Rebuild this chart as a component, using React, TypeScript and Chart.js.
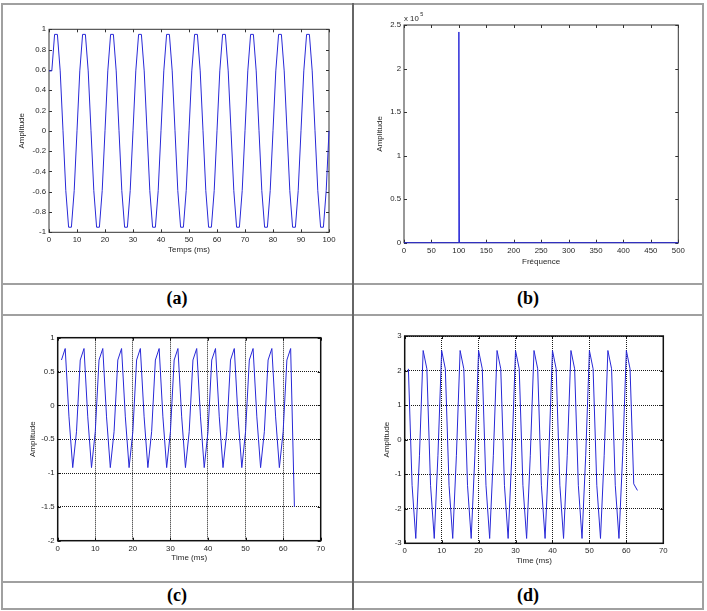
import React, { useEffect, useRef } from 'react';
import { Chart, registerables } from 'chart.js';

Chart.register(...registerables);

// ---------- DATA ----------
// (a) time signal, sampled every 1 ms from 0 to 100 ms
const ampA = [
  0.59,
  0.59, 0.95, 0.95, 0.59, 0, -0.59, -0.95, -0.95, -0.59, 0,
  0.59, 0.95, 0.95, 0.59, 0, -0.59, -0.95, -0.95, -0.59, 0,
  0.59, 0.95, 0.95, 0.59, 0, -0.59, -0.95, -0.95, -0.59, 0,
  0.59, 0.95, 0.95, 0.59, 0, -0.59, -0.95, -0.95, -0.59, 0,
  0.59, 0.95, 0.95, 0.59, 0, -0.59, -0.95, -0.95, -0.59, 0,
  0.59, 0.95, 0.95, 0.59, 0, -0.59, -0.95, -0.95, -0.59, 0,
  0.59, 0.95, 0.95, 0.59, 0, -0.59, -0.95, -0.95, -0.59, 0,
  0.59, 0.95, 0.95, 0.59, 0, -0.59, -0.95, -0.95, -0.59, 0,
  0.59, 0.95, 0.95, 0.59, 0, -0.59, -0.95, -0.95, -0.59, 0,
  0.59, 0.95, 0.95, 0.59, 0, -0.59, -0.95, -0.95, -0.59, 0,
];
const startA = 0;

// (b) spectrum
const freqB = [0, 99, 100, 101, 500];
const magB = [0, 0, 242000, 0, 0];

// (c) time signal, 1..63 ms
const ampC = [
  0.67, 0.84, -0.17, -0.92, -0.39,
  0.67, 0.84, -0.17, -0.92, -0.39,
  0.67, 0.84, -0.17, -0.92, -0.39,
  0.67, 0.84, -0.17, -0.92, -0.39,
  0.67, 0.84, -0.17, -0.92, -0.39,
  0.67, 0.84, -0.17, -0.92, -0.39,
  0.67, 0.84, -0.17, -0.92, -0.39,
  0.67, 0.84, -0.17, -0.92, -0.39,
  0.67, 0.84, -0.17, -0.92, -0.39,
  0.67, 0.84, -0.17, -0.92, -0.39,
  0.67, 0.84, -0.17, -0.92, -0.39,
  0.67, 0.84, -0.17, -0.92, -0.39,
  0.67, 0.84, -1.5,
];
const startC = 1;

// (d) time signal, 1..63 ms
const ampD = [
  2.05, -1.32, -2.86, -0.45, 2.58,
  2.05, -1.32, -2.86, -0.45, 2.58,
  2.05, -1.32, -2.86, -0.45, 2.58,
  2.05, -1.32, -2.86, -0.45, 2.58,
  2.05, -1.32, -2.86, -0.45, 2.58,
  2.05, -1.32, -2.86, -0.45, 2.58,
  2.05, -1.32, -2.86, -0.45, 2.58,
  2.05, -1.32, -2.86, -0.45, 2.58,
  2.05, -1.32, -2.86, -0.45, 2.58,
  2.05, -1.32, -2.86, -0.45, 2.58,
  2.05, -1.32, -2.86, -0.45, 2.58,
  2.05, -1.32, -2.86, -0.45, 2.58,
  2.05, -1.28, -1.47,
];
const startD = 1;

// tick values
const xTicksA = [0, 10, 20, 30, 40, 50, 60, 70, 80, 90, 100];
const yTicksA = [-1, -0.8, -0.6, -0.4, -0.2, 0, 0.2, 0.4, 0.6, 0.8, 1];
const xTicksB = [0, 50, 100, 150, 200, 250, 300, 350, 400, 450, 500];
const yTicksB = [0, 50000, 100000, 150000, 200000, 250000];
const xTicksCD = [0, 10, 20, 30, 40, 50, 60, 70];
const yTicksC = [-2, -1.5, -1, -0.5, 0, 0.5, 1];
const yTicksD = [-3, -2, -1, 0, 1, 2, 3];

const captions = ['(a)', '(b)', '(c)', '(d)'];

// ---------- STYLE ----------
const FONT = "'Liberation Sans', Arial, Helvetica, sans-serif";
const LINE_BLUE = 'rgb(40,40,215)';
const TEXT = '#262626';
const TICK_SIZE = 7.8;
const TITLE_SIZE = 8;
const LH = TITLE_SIZE * 1.2;

type Geo = {
  cx: number; cy: number; cw: number; ch: number;
  pl: number; pt: number; pr: number; pb: number;
  xTitleY: number; yTitleX: number;
};

type Panel = {
  xs: number[]; ys: number[];
  xMin: number; xMax: number; xTicks: number[];
  yMin: number; yMax: number; yTicks: number[];
  yFmt: (v: number) => string;
  xTitle: string; yTitle: string;
  grid: boolean; frameWidth: number; frameColor: string;
  exponent?: boolean;
  geo: Geo;
};

const framePlugin = {
  id: 'frame',
  beforeDatasetsDraw(chart: any, _args: any, opts: any) {
    const { ctx, chartArea, scales } = chart;
    const { left, top, right, bottom } = chartArea;
    const L = 3;
    ctx.save();
    ctx.strokeStyle = opts.color;
    ctx.lineWidth = 1;
    ctx.beginPath();
    scales.x.ticks.forEach((t: any) => {
      const p = Math.round(scales.x.getPixelForValue(t.value)) + 0.5;
      ctx.moveTo(p, bottom); ctx.lineTo(p, bottom - L);
      ctx.moveTo(p, top); ctx.lineTo(p, top + L);
    });
    scales.y.ticks.forEach((t: any) => {
      const p = Math.round(scales.y.getPixelForValue(t.value)) + 0.5;
      ctx.moveTo(left, p); ctx.lineTo(left + L, p);
      ctx.moveTo(right, p); ctx.lineTo(right - L, p);
    });
    ctx.stroke();
    ctx.lineWidth = opts.width;
    ctx.strokeRect(left, top, right - left, bottom - top);
    ctx.restore();
  },
  afterDraw(chart: any, _args: any, opts: any) {
    if (!opts.exponent) return;
    const { ctx, chartArea } = chart;
    ctx.save();
    ctx.fillStyle = TEXT;
    ctx.textBaseline = 'alphabetic';
    ctx.textAlign = 'left';
    ctx.font = `${TICK_SIZE}px ${FONT}`;
    ctx.fillText('x 10', chartArea.left, chartArea.top - 4);
    const w = ctx.measureText('x 10').width;
    ctx.font = `5.5px ${FONT}`;
    ctx.fillText('5', chartArea.left + w + 1.5, chartArea.top - 9);
    ctx.restore();
  },
};

function makeConfig(p: Panel): any {
  const g = p.geo;
  const hx = g.xTitleY + LH / 2 - g.pb;
  const wy = g.pl - g.cx;
  const tickFont = { family: FONT, size: TICK_SIZE };
  const titleFont = { family: FONT, size: TITLE_SIZE };
  const gridOpts = { display: p.grid, drawTicks: false, color: '#1a1a1a', lineWidth: 1 };
  return {
    type: 'line',
    data: {
      datasets: [{
        data: p.xs.map((x, i) => ({ x, y: p.ys[i] })),
        borderColor: LINE_BLUE,
        borderWidth: 1,
        pointRadius: 0,
        tension: 0,
        fill: false,
        clip: false,
      }],
    },
    options: {
      responsive: false,
      animation: false,
      events: [],
      layout: {
        padding: { left: 0, top: g.pt - g.cy, right: g.cx + g.cw - g.pr, bottom: g.cy + g.ch - g.pb - hx },
      },
      plugins: {
        legend: { display: false },
        tooltip: { enabled: false },
        frame: { color: p.frameColor, width: p.frameWidth, exponent: !!p.exponent },
      },
      scales: {
        x: {
          type: 'linear', min: p.xMin, max: p.xMax,
          afterBuildTicks: (s: any) => { s.ticks = p.xTicks.map((v) => ({ value: v })); },
          afterFit: (s: any) => { s.height = hx; },
          grid: gridOpts,
          border: { display: false, dash: [1, 1] },
          ticks: { padding: 3, color: TEXT, font: tickFont, maxRotation: 0, autoSkip: false, callback: (v: number) => String(v) },
          title: { display: true, text: p.xTitle, color: TEXT, font: titleFont, padding: { top: 0, bottom: 0 } },
        },
        y: {
          type: 'linear', min: p.yMin, max: p.yMax,
          afterBuildTicks: (s: any) => { s.ticks = p.yTicks.map((v) => ({ value: v })); },
          afterFit: (s: any) => { s.width = wy; },
          grid: gridOpts,
          border: { display: false, dash: [1, 1] },
          ticks: { padding: 3, color: TEXT, font: tickFont, autoSkip: false, callback: (v: number) => p.yFmt(v) },
          title: { display: true, text: p.yTitle, color: TEXT, font: titleFont, padding: { top: g.yTitleX - g.cx - LH / 2, bottom: 0 } },
        },
      },
    },
    plugins: [framePlugin],
  };
}

const panels: Panel[] = [
  {
    xs: ampA.map((_, i) => startA + i), ys: ampA,
    xMin: 0, xMax: 100, xTicks: xTicksA,
    yMin: -1, yMax: 1, yTicks: yTicksA, yFmt: (v) => String(v),
    xTitle: 'Temps (ms)', yTitle: 'Amplitude', grid: false, frameWidth: 1, frameColor: '#333',
    geo: { cx: 4, cy: 6, cw: 346, ch: 276, pl: 49, pt: 29.3, pr: 329, pb: 232.3, xTitleY: 250, yTitleX: 22 },
  },
  {
    xs: freqB, ys: magB,
    xMin: 0, xMax: 500, xTicks: xTicksB,
    yMin: 0, yMax: 250000, yTicks: yTicksB, yFmt: (v) => String(v / 100000),
    xTitle: 'Fréquence', yTitle: 'Amplitude', grid: false, frameWidth: 1, frameColor: '#333', exponent: true,
    geo: { cx: 356, cy: 6, cw: 344, ch: 276, pl: 404, pt: 25, pr: 678.3, pb: 242.7, xTitleY: 261.5, yTitleX: 380 },
  },
  {
    xs: ampC.map((_, i) => startC + i), ys: ampC,
    xMin: 0, xMax: 70, xTicks: xTicksCD,
    yMin: -2, yMax: 1, yTicks: yTicksC, yFmt: (v) => String(v),
    xTitle: 'Time (ms)', yTitle: 'Amplitude', grid: true, frameWidth: 1.5, frameColor: '#111',
    geo: { cx: 4, cy: 318, cw: 346, ch: 262, pl: 57.7, pt: 337.7, pr: 320.7, pb: 540.7, xTitleY: 557.7, yTitleX: 32.3 },
  },
  {
    xs: ampD.map((_, i) => startD + i), ys: ampD,
    xMin: 0, xMax: 70, xTicks: xTicksCD,
    yMin: -3, yMax: 3, yTicks: yTicksD, yFmt: (v) => String(v),
    xTitle: 'Time (ms)', yTitle: 'Amplitude', grid: true, frameWidth: 1.5, frameColor: '#111',
    geo: { cx: 356, cy: 318, cw: 344, ch: 262, pl: 404.7, pt: 336, pr: 663.3, pb: 543.3, xTitleY: 560.7, yTitleX: 386.3 },
  },
];

const BORDER = '#a0a0a0';

export default function App() {
  const r0 = useRef<HTMLCanvasElement>(null);
  const r1 = useRef<HTMLCanvasElement>(null);
  const r2 = useRef<HTMLCanvasElement>(null);
  const r3 = useRef<HTMLCanvasElement>(null);
  const refs = [r0, r1, r2, r3];

  useEffect(() => {
    const charts = panels.map((p, i) => new Chart(refs[i].current as HTMLCanvasElement, makeConfig(p)));
    return () => charts.forEach((c) => c.destroy());
  }, []);

  const line = (left: number, top: number, width: number, height: number, color = BORDER) => (
    <div style={{ position: 'absolute', left, top, width, height, background: color }} />
  );

  const capStyle = (left: number, top: number): React.CSSProperties => ({
    position: 'absolute', left, top, width: 350, height: 20, lineHeight: '20px', textAlign: 'center',
    fontFamily: "'Liberation Serif', 'Times New Roman', serif", fontWeight: 'bold', fontSize: 18, color: '#000',
  });

  return (
    <div style={{ position: 'fixed', left: 0, top: 0, width: 707, height: 611, background: '#fff', overflow: 'hidden' }}>
      {panels.map((p, i) => (
        <canvas
          key={i}
          ref={refs[i]}
          width={p.geo.cw}
          height={p.geo.ch}
          style={{ position: 'absolute', left: p.geo.cx, top: p.geo.cy, width: p.geo.cw, height: p.geo.ch }}
        />
      ))}
      {line(1, 3, 703, 2)}
      {line(1, 608, 703, 2)}
      {line(1, 3, 2, 607)}
      {line(702, 3, 2, 607)}
      {line(1, 283, 703, 2)}
      {line(1, 314, 703, 2)}
      {line(1, 581, 703, 2)}
      {line(352, 3, 1.5, 607, '#666')}
      <div style={capStyle(2, 288)}>{captions[0]}</div>
      <div style={capStyle(353, 288)}>{captions[1]}</div>
      <div style={capStyle(2, 585)}>{captions[2]}</div>
      <div style={capStyle(353, 585)}>{captions[3]}</div>
    </div>
  );
}
